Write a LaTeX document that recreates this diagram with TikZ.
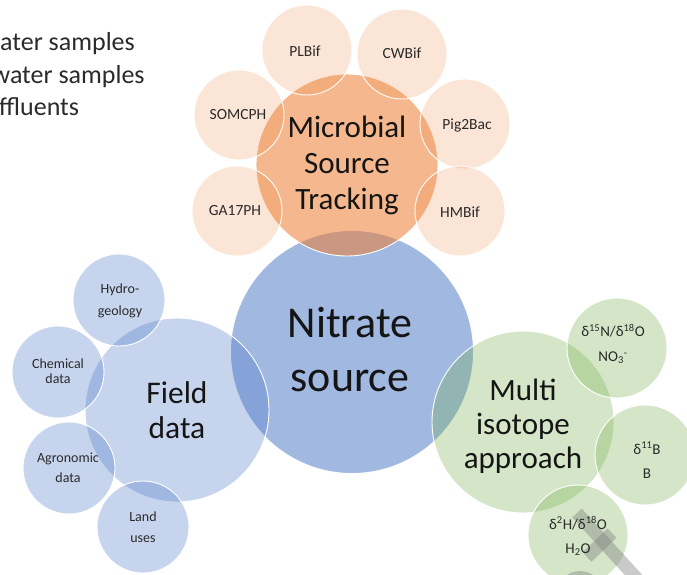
\documentclass[tikz,border=0pt]{standalone}
\usepackage{fontspec}
\setmainfont{Carlito}
\definecolor{accA}{HTML}{4472C4}
\definecolor{accB}{HTML}{ED7D31}
\definecolor{accC}{HTML}{70AD47}
\definecolor{txt}{HTML}{151515}
\definecolor{stxt}{HTML}{2A2A2A}
\tikzset{
  disc/.style={circle, draw=white, line width=0.9pt, inner sep=0pt, minimum size=#1},
  nitr/.style={disc=243pt, fill=accA, fill opacity=0.5},
  mst/.style={disc=182pt, fill=accB, fill opacity=0.55},
  msts/.style={disc=90pt, fill=accB, fill opacity=0.2},
  fld/.style={disc=184pt, fill=accA, fill opacity=0.3},
  flds/.style={disc=92pt, fill=accA, fill opacity=0.3},
  iso/.style={disc=182pt, fill=accC, fill opacity=0.3},
  isos/.style={disc=100pt, fill=accC, fill opacity=0.3},
  bigtxt/.style={align=center, inner sep=0pt, text=txt},
  smtxt/.style={align=center, inner sep=0pt, text=stxt},
  toptxt/.style={anchor=base west, inner sep=0pt, text=stxt, font=\fontsize{26}{30}\selectfont},
  wm/.style={draw=gray, draw opacity=0.42, line width=13pt}
}
\begin{document}
\begin{tikzpicture}[x=1pt,y=-1pt]
\useasboundingbox (0,0) rectangle (687,574);
% circles
\node[nitr] (nit) at (352,352) {};
\node[mst] (mstc) at (347,165) {};
\node[fld] (fldc) at (177,410) {};
\node[iso] (isoc) at (523,422) {};
% MST satellites
\node[msts] (plb) at (307,50) {};
\node[msts] (cwb) at (402,54) {};
\node[msts] (som) at (239,115) {};
\node[msts] (pig) at (465,124) {};
\node[msts] (ga) at (237,211) {};
\node[msts] (hmb) at (460,211) {};
% Field satellites
\node[flds] (hyd) at (119,300) {};
\node[flds] (che) at (58,372) {};
\node[flds] (agr) at (69,468) {};
\node[flds] (lan) at (143,527) {};
% isotope satellites
\node[isos] (nno) at (617,348) {};
\node[isos] (bor) at (645,455) {};
\node[isos] (hho) at (578,535) {};
% watermark
\coordinate (w1) at (577,513);
\coordinate (w2) at (640,582);
\coordinate (w3) at (612,533);
\coordinate (w4) at (587,557);
\draw[wm] (w1) -- (w2);
\draw[wm] (w3) -- (w4);
\node[circle, fill=gray, fill opacity=0.42, minimum size=46pt, inner sep=0pt] (w5) at (580,594) {};
% texts
\node[bigtxt, font=\fontsize{44}{54}\selectfont] (tnit) at (350,350) {Nitrate\\source};
\node[bigtxt, font=\fontsize{31}{36}\selectfont] (tmst) at (347,165) {Microbial\\Source\\Tracking};
\node[bigtxt, font=\fontsize{31.5}{35}\selectfont] (tfld) at (177,410) {Field\\data};
\node[bigtxt, font=\fontsize{31}{34}\selectfont] (tiso) at (523,426) {Multi\\isotope\\approach};
\node[smtxt, font=\fontsize{15.5}{18}\selectfont] (tplb) at (305,51) {PLBif};
\node[smtxt, font=\fontsize{15.5}{18}\selectfont] (tcwb) at (402,53) {CWBif};
\node[smtxt, font=\fontsize{15.5}{18}\selectfont] (tsom) at (238,115) {SOMCPH};
\node[smtxt, font=\fontsize{15.5}{18}\selectfont] (tpig) at (467,125) {Pig2Bac};
\node[smtxt, font=\fontsize{15.5}{18}\selectfont] (tga) at (235,211) {GA17PH};
\node[smtxt, font=\fontsize{15.5}{18}\selectfont] (thmb) at (460,212) {HMBif};
\node[smtxt, font=\fontsize{14}{22}\selectfont] (thyd) at (120,301) {Hydro-\\geology};
\node[smtxt, font=\fontsize{14}{14.5}\selectfont] (tche) at (58,371) {Chemical\\data};
\node[smtxt, font=\fontsize{14}{20}\selectfont] (tagr) at (68,468) {Agronomic\\data};
\node[smtxt, font=\fontsize{14}{21}\selectfont] (tlan) at (143,527) {Land\\uses};
\node[smtxt, font=\fontsize{15}{25}\selectfont] (tnno) at (613,344) {δ\textsuperscript{15}N/δ\textsuperscript{18}O\\NO\textsubscript{3}\textsuperscript{-}};
\node[smtxt, font=\fontsize{15}{24}\selectfont] (tbor) at (647,460) {δ\textsuperscript{11}B\\B};
\node[smtxt, font=\fontsize{15}{24}\selectfont] (thho) at (578,536) {δ\textsuperscript{2}H/δ\textsuperscript{18}O\\H\textsubscript{2}O};
% top-left text
\node[toptxt] (l1) at (0,50) {ater samples};
\node[toptxt] (l2) at (-8.5,83) {water samples};
\node[toptxt] (l3) at (-1,115) {ffluents};
\end{tikzpicture}
\end{document}
